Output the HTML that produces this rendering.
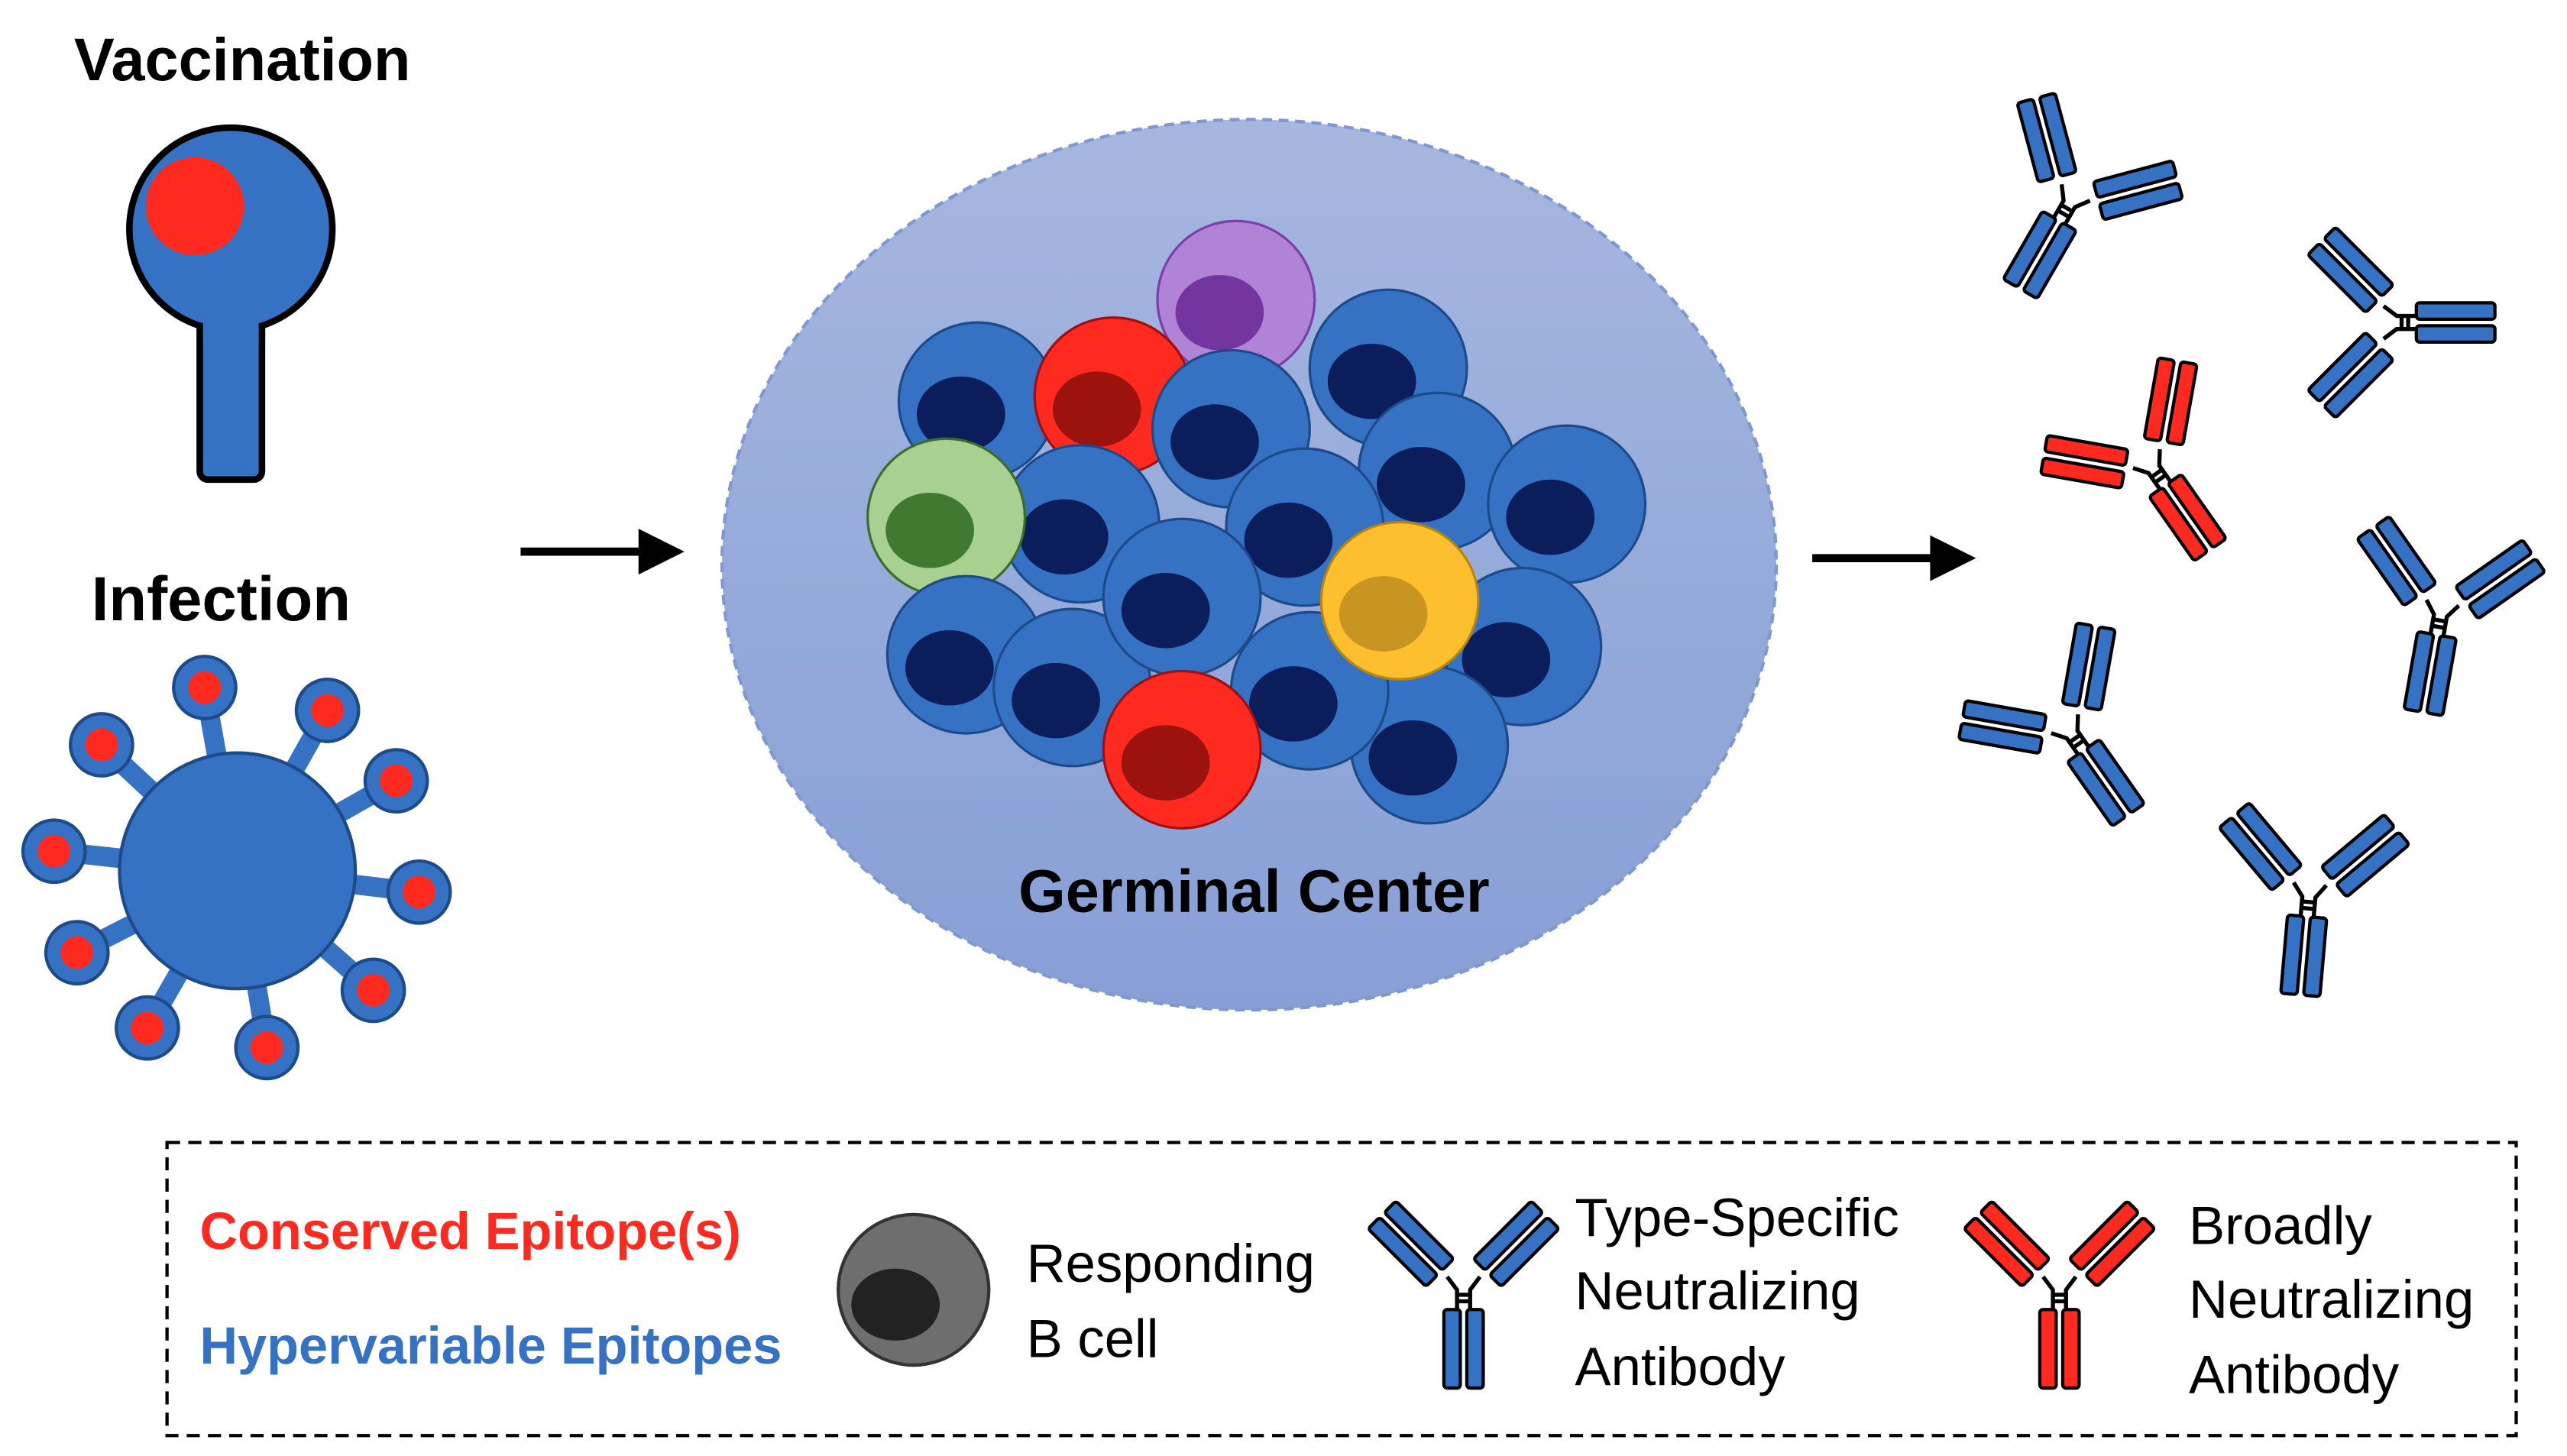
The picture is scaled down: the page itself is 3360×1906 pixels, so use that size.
<!DOCTYPE html>
<html><head><meta charset="utf-8"><style>html,body{margin:0;padding:0;background:#fff}svg{display:block}</style></head>
<body>
<svg width="3360" height="1906" viewBox="0 0 1568 889.5" xmlns="http://www.w3.org/2000/svg" font-family="Liberation Sans, sans-serif">
<defs>
<linearGradient id="gc" x1="0" y1="0" x2="0" y2="1"><stop offset="0" stop-color="#a6b7df"/><stop offset="1" stop-color="#879fd6"/></linearGradient>
<g id="arm"><rect x="-12" y="-62" width="10" height="50" rx="2" stroke="#000" stroke-width="2"/><rect x="2" y="-62" width="10" height="50" rx="2" stroke="#000" stroke-width="2"/></g>
<g id="ab">
<path d="M-4 8 L-4 -4 L-10 -12 M4 8 L4 -4 L10 -12 M-4 -1 H4 M-4 3 H4" stroke="#000" stroke-width="2.5" fill="none"/>
<rect x="-12" y="8" width="10" height="48" rx="2" stroke="#000" stroke-width="2"/><rect x="2" y="8" width="10" height="48" rx="2" stroke="#000" stroke-width="2"/>
<use href="#arm" transform="translate(-6,-6) rotate(-45)"/>
<use href="#arm" transform="translate(6,-6) rotate(45)"/>
</g>
<g id="bc"><circle r="48" fill="#3572c3" stroke="#1d4a88" stroke-width="1.5"/><ellipse cx="-10" cy="8" rx="27" ry="23" fill="#0b1d5a"/></g>
</defs>
<rect width="1568" height="889.5" fill="#fff"/>
<text x="148" y="49" font-size="37" font-weight="bold" text-anchor="middle">Vaccination</text>
<rect x="122" y="185" width="38" height="108" rx="5" fill="#3572c3" stroke="#000" stroke-width="4"/>
<circle cx="141" cy="140" r="62" fill="#3572c3" stroke="#000" stroke-width="4"/>
<rect x="124" y="190" width="34" height="20" fill="#3572c3"/>
<circle cx="119" cy="126" r="30" fill="#ff2a1f"/>
<text x="135" y="379" font-size="38" font-weight="bold" text-anchor="middle">Infection</text>
<g stroke="#1d4a88" stroke-width="2">
<g fill="#3572c3">
<path d="M145 532 L125 420 M145 532 L200 434 M145 532 L242 477 M145 532 L256 545 M145 532 L228 605 M145 532 L163 640 M145 532 L90 628 M145 532 L47 582 M145 532 L33 520 M145 532 L62 455" stroke="#3572c3" stroke-width="12"/>
<circle cx="145" cy="532" r="72"/>
<circle cx="125" cy="420" r="19"/><circle cx="200" cy="434" r="19"/><circle cx="242" cy="477" r="19"/><circle cx="256" cy="545" r="19"/><circle cx="228" cy="605" r="19"/><circle cx="163" cy="640" r="19"/><circle cx="90" cy="628" r="19"/><circle cx="47" cy="582" r="19"/><circle cx="33" cy="520" r="19"/><circle cx="62" cy="455" r="19"/>
</g>
<g fill="#ff2a1f" stroke="none">
<circle cx="125" cy="420" r="10"/><circle cx="200" cy="434" r="10"/><circle cx="242" cy="477" r="10"/><circle cx="256" cy="545" r="10"/><circle cx="228" cy="605" r="10"/><circle cx="163" cy="640" r="10"/><circle cx="90" cy="628" r="10"/><circle cx="47" cy="582" r="10"/><circle cx="33" cy="520" r="10"/><circle cx="62" cy="455" r="10"/>
</g></g>
<path d="M318 337 H398" stroke="#000" stroke-width="5"/><path d="M418 337 L390 323 L390 351 Z"/>
<path d="M1107 341 H1187" stroke="#000" stroke-width="5"/><path d="M1207 341 L1179 327 L1179 355 Z"/>
<ellipse cx="763" cy="345" rx="322" ry="272" fill="url(#gc)" stroke="#7f98cf" stroke-width="2" stroke-dasharray="6 4"/>
<g>
<use href="#bc" x="597" y="245"/>
<g transform="translate(755,183)"><circle r="48" fill="#b083d6" stroke="#7a3fa8" stroke-width="1.5"/><ellipse cx="-10" cy="8" rx="27" ry="23" fill="#7335a0"/></g>
<use href="#bc" x="848" y="225"/>
<g transform="translate(680,242)"><circle r="48" fill="#ff2a1f" stroke="#a01010" stroke-width="1.5"/><ellipse cx="-10" cy="8" rx="27" ry="23" fill="#9c130e"/></g>
<use href="#bc" x="752" y="262"/>
<use href="#bc" x="878" y="288"/>
<use href="#bc" x="957" y="308"/>
<use href="#bc" x="660" y="320"/>
<use href="#bc" x="797" y="322"/>
<g transform="translate(578,316)"><circle r="48" fill="#a8d191" stroke="#3b6e2a" stroke-width="1.5"/><ellipse cx="-10" cy="8" rx="27" ry="23" fill="#3f7a30"/></g>
<use href="#bc" x="590" y="400"/>
<use href="#bc" x="930" y="395"/>
<use href="#bc" x="655" y="420"/>
<use href="#bc" x="722" y="365"/>
<use href="#bc" x="873" y="455"/>
<use href="#bc" x="800" y="422"/>
<g transform="translate(855,367)"><circle r="48" fill="#fdbf2d" stroke="#b7860f" stroke-width="1.5"/><ellipse cx="-10" cy="8" rx="27" ry="23" fill="#c99521"/></g>
<g transform="translate(722,458)"><circle r="48" fill="#ff2a1f" stroke="#a01010" stroke-width="1.5"/><ellipse cx="-10" cy="8" rx="27" ry="23" fill="#9c130e"/></g>
</g>
<text x="766" y="557" font-size="37" font-weight="bold" text-anchor="middle">Germinal Center</text>
<g fill="#3572c3">
<use href="#ab" transform="translate(1262,128) rotate(30)"/>
<use href="#ab" transform="translate(1468,197) rotate(-90)"/>
<use href="#ab" transform="translate(1490,380) rotate(10)"/>
<use href="#ab" transform="translate(1268,452) rotate(-35)"/>
<use href="#ab" transform="translate(1410,552) rotate(5)"/>
</g>
<g fill="#ff2a1f"><use href="#ab" transform="translate(1318,290) rotate(-35)"/></g>
<rect x="102" y="698" width="1435" height="179" fill="none" stroke="#000" stroke-width="2" stroke-dasharray="8 5"/>
<text x="122" y="763" font-size="32" font-weight="bold" fill="#ff2a1f">Conserved Epitope(s)</text>
<text x="122" y="833" font-size="32" font-weight="bold" fill="#3572c3">Hypervariable Epitopes</text>
<circle cx="558" cy="788" r="46" fill="#6e6e6e" stroke="#333" stroke-width="2"/>
<ellipse cx="547" cy="797" rx="27" ry="22" fill="#222"/>
<g font-size="33">
<text x="627" y="783">Responding</text><text x="627" y="829">B cell</text>
<text x="962" y="755">Type-Specific</text><text x="962" y="800">Neutralizing</text><text x="962" y="846">Antibody</text>
<text x="1337" y="760">Broadly</text><text x="1337" y="805">Neutralizing</text><text x="1337" y="851">Antibody</text>
</g>
<g fill="#3572c3"><use href="#ab" transform="translate(894,792)"/></g>
<g fill="#ff2a1f"><use href="#ab" transform="translate(1258,792)"/></g>
</svg>
</body></html>
